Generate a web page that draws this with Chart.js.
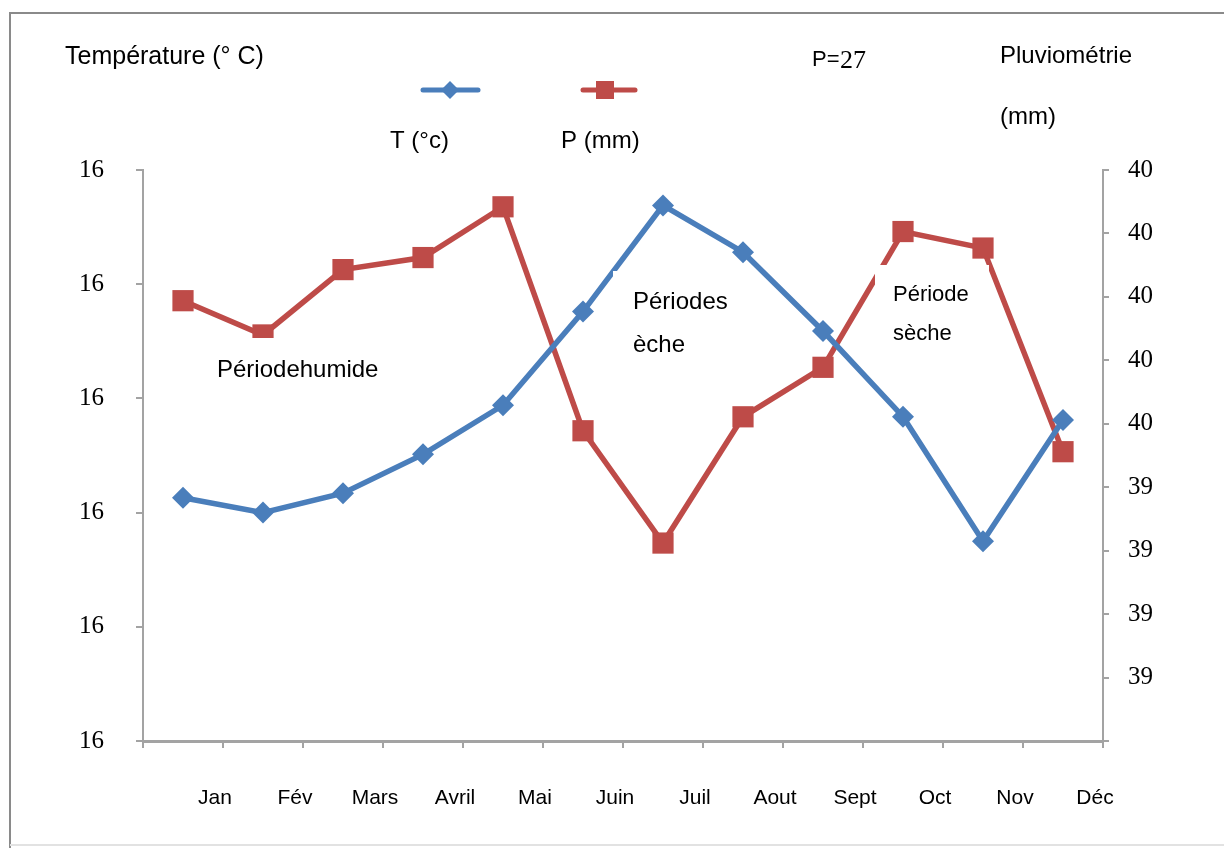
<!DOCTYPE html>
<html>
<head>
<meta charset="utf-8">
<script src="https://cdn.jsdelivr.net/npm/chart.js@4"></script>
<style>
  html, body { margin: 0; padding: 0; background: #fff; }
  #wrap { width: 1224px; height: 848px; }
</style>
</head>
<body>
<div id="wrap"><canvas id="myChart" width="1224" height="848"></canvas></div>
<script>
// data
const months = ['Jan', 'Fév', 'Mars', 'Avril', 'Mai', 'Juin', 'Juil', 'Aout', 'Sept', 'Oct', 'Nov', 'Déc'];
const temperature = [16.213, 16.200, 16.217, 16.251, 16.294, 16.376, 16.469, 16.428, 16.359, 16.284, 16.175, 16.281];
const rainfall = [39.794, 39.740, 39.843, 39.862, 39.942, 39.589, 39.412, 39.611, 39.689, 39.903, 39.877, 39.556];

// tick labels, bottom to top
const tempTickLabels = ['16', '16', '16', '16', '16', '16'];
const rainTickLabels = ['', '39', '39', '39', '39', '40', '40', '40', '40', '40'];

const BLUE = 'rgb(74, 126, 187)';
const RED = 'rgb(190, 75, 72)';
const AXIS = '#a3a3a3';
const SANS = "'Liberation Sans', Arial, sans-serif";
const SERIF = "'Liberation Serif', 'Times New Roman', serif";

// frame, legend and free texts
const decorations = {
    id: 'decorations',
    beforeDraw(chart) {
        const ctx = chart.ctx;
        ctx.save();
        ctx.fillStyle = '#fff';
        ctx.fillRect(0, 0, chart.width, chart.height);
        ctx.strokeStyle = '#8a8a8a';
        ctx.lineWidth = 2;
        ctx.beginPath();
        ctx.moveTo(10, 849);
        ctx.lineTo(10, 13);
        ctx.lineTo(1224, 13);
        ctx.stroke();
        ctx.strokeStyle = '#e2e2e2';
        ctx.beginPath();
        ctx.moveTo(10, 845);
        ctx.lineTo(1224, 845);
        ctx.stroke();
        ctx.restore();
    },
    afterDatasetsDraw(chart) {
        const ctx = chart.ctx;
        const ds = chart.data.datasets;
        ctx.save();

        // white boxes under the period labels
        ctx.fillStyle = '#fff';
        ctx.fillRect(200, 338, 195, 62);
        ctx.fillRect(613, 271, 142, 94);
        ctx.fillRect(875, 265, 114, 95);

        ctx.fillStyle = '#000';
        ctx.textBaseline = 'middle';
        ctx.textAlign = 'left';

        ctx.font = '24px ' + SANS;
        ctx.fillText('Périodehumide', 217, 370);
        ctx.fillText('Périodes', 633, 302);
        ctx.fillText('èche', 633, 345);
        ctx.font = '22px ' + SANS;
        ctx.fillText('Période', 893, 295);
        ctx.fillText('sèche', 893, 334);

        // titles
        ctx.font = '25px ' + SANS;
        ctx.fillText('Température (° C)', 65, 57);
        ctx.font = '24px ' + SANS;
        ctx.fillText('Pluviométrie', 1000, 56);
        ctx.fillText('(mm)', 1000, 117);
        ctx.font = '22px ' + SANS;
        ctx.fillText('P=', 812, 60);
        ctx.font = '26px ' + SERIF;
        ctx.fillText('27', 840, 61);

        // legend
        ctx.lineCap = 'round';
        ctx.lineWidth = 5;
        ctx.strokeStyle = ds[0].borderColor;
        ctx.beginPath();
        ctx.moveTo(423, 90);
        ctx.lineTo(478, 90);
        ctx.stroke();
        ctx.fillStyle = ds[0].borderColor;
        ctx.beginPath();
        ctx.moveTo(450, 81);
        ctx.lineTo(459, 90);
        ctx.lineTo(450, 99);
        ctx.lineTo(441, 90);
        ctx.closePath();
        ctx.fill();

        ctx.strokeStyle = ds[1].borderColor;
        ctx.beginPath();
        ctx.moveTo(583, 90);
        ctx.lineTo(635, 90);
        ctx.stroke();
        ctx.fillStyle = ds[1].borderColor;
        ctx.fillRect(596, 81, 18, 18);

        ctx.fillStyle = '#000';
        ctx.font = '24px ' + SANS;
        ctx.fillText(ds[0].label, 390, 141);
        ctx.fillText(ds[1].label, 561, 141);
        ctx.restore();
    }
};

const data = {
    labels: months,
    datasets: [{
        label: 'T (°c)',
        data: temperature,
        yAxisID: 'y',
        borderColor: BLUE,
        backgroundColor: BLUE,
        borderWidth: 5.5,
        pointStyle: 'rectRot',
        pointRadius: 11,
        pointHoverRadius: 11,
        pointBorderWidth: 0,
        tension: 0,
        clip: false
    }, {
        label: 'P (mm)',
        data: rainfall,
        yAxisID: 'y1',
        borderColor: RED,
        backgroundColor: RED,
        borderWidth: 5.5,
        pointStyle: 'rect',
        pointRadius: 15,
        pointHoverRadius: 15,
        pointBorderWidth: 0,
        tension: 0,
        clip: false
    }]
};

const config = {
    type: 'line',
    data: data,
    plugins: [decorations],
    options: {
        responsive: false,
        animation: false,
        events: [],
        layout: { padding: { top: 170, left: 0, right: 0, bottom: 0 } },
        plugins: {
            legend: { display: false },
            tooltip: { enabled: false }
        },
        scales: {
            x: {
                type: 'category',
                offset: true,
                afterFit: (scale) => { scale.height = 107; },
                border: { color: AXIS, width: 3 },
                grid: {
                    offset: true,
                    drawOnChartArea: false,
                    drawTicks: true,
                    tickLength: 7,
                    color: AXIS,
                    lineWidth: 2
                },
                ticks: {
                    color: '#000',
                    font: { family: SANS, size: 21 },
                    labelOffset: 32,
                    padding: 38,
                    maxRotation: 0,
                    autoSkip: false
                }
            },
            y: {
                position: 'left',
                min: 16.0,
                max: 16.5,
                afterFit: (scale) => { scale.width = 143; },
                border: { color: AXIS, width: 2 },
                grid: {
                    drawOnChartArea: false,
                    drawTicks: true,
                    tickLength: 7,
                    color: AXIS,
                    lineWidth: 2
                },
                ticks: {
                    stepSize: 0.1,
                    color: '#000',
                    font: { family: SERIF, size: 25 },
                    padding: 32,
                    callback: (v, i) => tempTickLabels[i]
                }
            },
            y1: {
                position: 'right',
                min: 39.1,
                max: 40.0,
                afterFit: (scale) => { scale.width = 121; },
                border: { color: AXIS, width: 2 },
                grid: {
                    drawOnChartArea: false,
                    drawTicks: true,
                    tickLength: 6,
                    color: AXIS,
                    lineWidth: 2
                },
                ticks: {
                    stepSize: 0.1,
                    color: '#000',
                    font: { family: SERIF, size: 25 },
                    padding: 19,
                    callback: (v, i) => rainTickLabels[i]
                }
            }
        }
    }
};

const myChart = new Chart(document.getElementById('myChart'), config);
</script>
</body>
</html>
